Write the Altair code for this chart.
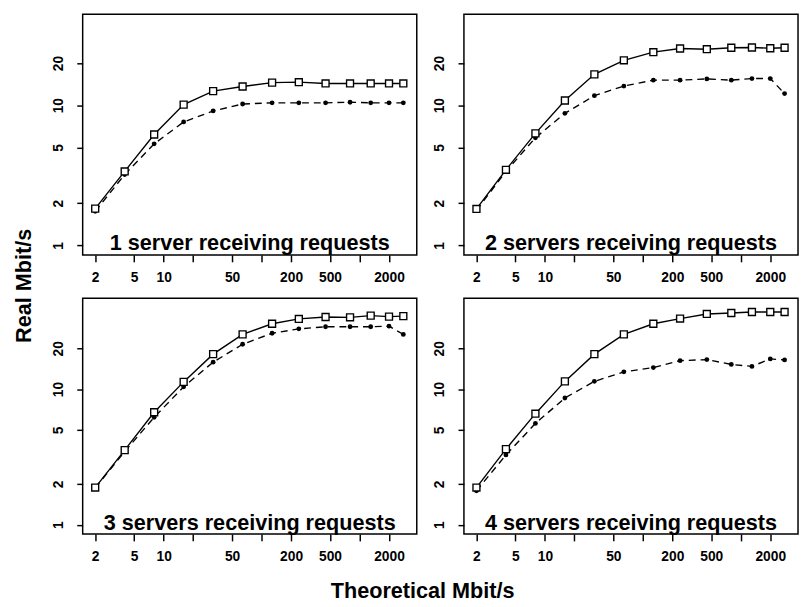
import altair as alt
import pandas as pd

x_vals = [2, 4, 8, 16, 32, 64, 128, 240, 450, 800, 1300, 2000, 2800]

p1_squares = [1.83, 3.37, 6.18, 10.1, 12.6, 13.6, 14.5, 14.6, 14.3, 14.3, 14.3, 14.3, 14.3]
p1_circles = [1.75, 3.2, 5.3, 7.6, 9.1, 10.2, 10.4, 10.4, 10.4, 10.5, 10.4, 10.4, 10.4]

p2_squares = [1.82, 3.46, 6.3, 10.8, 16.6, 20.9, 23.9, 25.4, 25.1, 25.7, 25.8, 25.5, 25.7]
p2_circles = [1.78, 3.37, 5.86, 8.75, 11.7, 13.7, 15.1, 15.1, 15.4, 15.1, 15.5, 15.5, 12.1]

p3_squares = [1.88, 3.55, 6.75, 11.3, 18.1, 25.3, 30.3, 32.9, 34.0, 33.8, 34.8, 34.2, 34.5]
p3_circles = [1.87, 3.46, 6.2, 10.4, 15.8, 21.4, 25.8, 27.8, 28.8, 28.8, 28.8, 29.1, 25.3]

p4_squares = [1.88, 3.61, 6.59, 11.4, 18.1, 25.3, 30.3, 33.1, 35.8, 36.4, 37.0, 37.0, 37.0]
p4_circles = [1.78, 3.27, 5.58, 8.6, 11.4, 13.4, 14.4, 16.2, 16.5, 15.2, 14.7, 16.7, 16.4]

panel_labels = [
    "1 server receiving requests",
    "2 servers receiving requests",
    "3 servers receiving requests",
    "4 servers receiving requests",
]

x_ticks = [2, 5, 10, 20, 50, 100, 200, 500, 1000, 2000]
y_ticks = [1, 2, 5, 10, 20]

FONT = "Liberation Sans"
PW = 340
VIEW = alt.ViewBackground(stroke="black", strokeWidth=1.5, fill="white")


def panel(squares, circles, label, height, ytop):
    df = pd.DataFrame({
        "x": x_vals + x_vals,
        "y": squares + circles,
        "s": ["sq"] * len(x_vals) + ["ci"] * len(x_vals),
    })
    xs = alt.Scale(type="log", domain=[1.49, 3840], nice=False, zero=False)
    ys = alt.Scale(type="log", domain=[0.855, ytop], nice=False, zero=False)
    xax = alt.Axis(
        values=x_ticks, format="d",
        labelExpr="(datum.value==20||datum.value==100||datum.value==1000)?'':datum.label",
        title=None, grid=False, domain=False, tickSize=7, tickWidth=1.5,
        tickColor="black", labelColor="black", labelFont=FONT, labelFontSize=14,
        labelFontWeight="bold", labelPadding=9, labelFlush=False, labelOverlap=False,
    )
    yax = alt.Axis(
        values=y_ticks, format="d", labelAngle=-90, labelAlign="center",
        labelBaseline="bottom",
        title=None, grid=False, domain=False, tickSize=6, tickWidth=1.5,
        tickColor="black", labelColor="black", labelFont=FONT, labelFontSize=14,
        labelFontWeight="bold", labelPadding=12, labelFlush=False, labelOverlap=False,
    )
    X = alt.X("x:Q", scale=xs, axis=xax)
    Y = alt.Y("y:Q", scale=ys, axis=yax)
    base = alt.Chart(df)
    sq = base.transform_filter("datum.s == 'sq'")
    ci = base.transform_filter("datum.s == 'ci'")
    sq_line = sq.mark_line(color="black", strokeWidth=1.4).encode(x=X, y=Y)
    ci_line = ci.mark_line(color="black", strokeWidth=1.4, strokeDash=[7, 5]).encode(x=X, y=Y)
    sq_pts = sq.mark_point(shape="square", size=50, filled=True, fill="white",
                           stroke="black", strokeWidth=1.4, opacity=1).encode(x=X, y=Y)
    ci_pts = ci.mark_point(shape="circle", size=24, filled=True, color="black",
                           opacity=1).encode(x=X, y=Y)
    tdf = pd.DataFrame({"t": [label], "yy": [1]})
    txt = alt.Chart(tdf).mark_text(
        font=FONT, fontSize=22, fontWeight="bold", color="black",
        align="center", baseline="alphabetic", dy=5,
    ).encode(x=alt.value(PW / 2), y=alt.Y("yy:Q", scale=ys, axis=yax), text="t:N")
    return alt.layer(ci_line, sq_line, ci_pts, sq_pts, txt).properties(
        width=PW, height=height, view=VIEW)


p1 = panel(p1_squares, p1_circles, panel_labels[0], 245, 44.6)
p2 = panel(p2_squares, p2_circles, panel_labels[1], 245, 44.6)
p3 = panel(p3_squares, p3_circles, panel_labels[2], 240, 46.8)
p4 = panel(p4_squares, p4_circles, panel_labels[3], 240, 46.8)

row1 = alt.hconcat(p1, p2, spacing=14)
row2 = alt.hconcat(p3, p4, spacing=14)
inner = alt.vconcat(row1, row2, spacing=12).properties(
    title=alt.TitleParams("Theoretical Mbit/s", orient="bottom", anchor="middle",
                          font=FONT, fontSize=22, fontWeight="bold", color="black",
                          offset=17, dx=-2)
)
chart = alt.vconcat(inner).properties(
    title=alt.TitleParams("Real Mbit/s", orient="left", anchor="middle", font=FONT,
                          fontSize=22, fontWeight="bold", color="black", offset=15,
                          dx=22),
    padding={"left": 5, "top": 0, "right": 0, "bottom": 0},
).configure_view(stroke="black", strokeWidth=1.5)

chart.save("out.html", embed_options={"renderer": "svg", "actions": False})
